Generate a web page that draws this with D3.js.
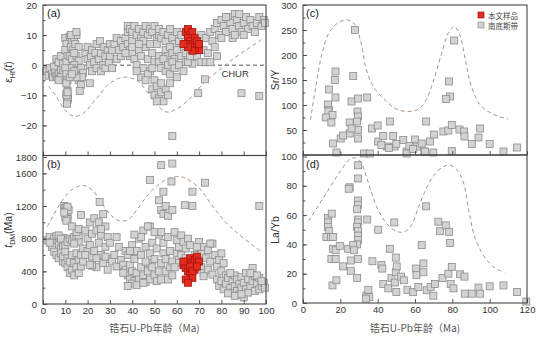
<!DOCTYPE html>
<html><head><meta charset="utf-8">
<script src="https://cdn.jsdelivr.net/npm/d3@7/dist/d3.min.js"></script>
<style>body{margin:0;background:#fff}svg{display:block}</style>
</head><body>
<svg id="c" width="541" height="337"></svg>
<script>
// ---------- DATA ----------
const grayA = [
[1.5,-2],[2.5,-3.5],[3,-1],[4,-3],[4.5,-4],[5,-0.5],[5.5,-2.5],[6,-3.5],[6.5,-4],[7,-3],[7.5,-4.5],[8,-1.5],[8.5,-3.8],[9,-2.5],[9.5,-4.2],[8,-4],[7,-5],[6,2],[7,1],[9,0.5],[8,3],
[10,9],[10.5,7],[10,5],[11,3],[10.5,1],[10,-1],[10.5,-3],[11,-5],[10.5,-6],[11,-8.5],[10.5,-9.5],[10.8,-10.5],[11,-11.5],[10.7,-12.2],[11.2,-11],[10.6,-10],[10.8,-12.8],[11,-9],
[12,9.5],[13,8],[14,9],[15,10],[12.5,6],[13.5,5],[14.5,7],[16,6],[12,3],[13,2],[15,3],[16,1.5],[14,0],[13,-1],[15,-1.5],[16,-2],[17,-3],[15.5,-3.5],[16.5,-4.5],[17,-1],[18,-2.5],[16,-5],[17.5,-4],[15,-4],[14,-2],[12,-4],[13,-3],[17,-6.5],[16.5,-8.6],[14,4],[12.5,10],[15,11],
[19,4],[20,6],[20,2],[21,0],[21.5,3],[22,5],[22,-2],[23,1],[23.5,4],[24,7],[24,-1],[25,2],[25.5,8],[26,4],[26,-2],[27,0],[27.5,6],[28,3],[28,-1],[29,5],[29.5,1],[30,7],[30,3],[31,5],[31,-1],[21,-6],[33,2],[34,7],[35,3],
[32,7],[33,9],[34,5],[35,8],[36,6],[37,9],[38,7],[39,5],[38,11],[40,8],[39,3],[40,4],[37,4],
[38,13],[39,12],[40,11],[41,13],[42,10],[43,12],[44,9],[45,11],[46,13],[47,10],[48,12],[49,11],[50,13],[51,9],[52,10],[40,6],[41,2],[42,0],[43,5],[44,3],[45,-1],[46,6],[47,2],[48,-2],[49,4],[50,1],[51,7],[52,3],[44,-4],[45,8],[47,-3],[49,-1],[50,-5],[46,-5],[42,-2],[43,7],[48,7],
[49,-8],[50,-10],[51,-7],[52,-11],[53,-9],[54,-12],[55,-8],[56,-10],[57,-6],[53,-6],[51,-12],[58,-23.5],
[52,12],[53,9],[54,11],[55,8],[56,10],[57,12],[58,9],[59,7],[60,11],[61,8],[62,10],[63,6],[55,5],[56,3],[57,6],[58,4],[59,2],[60,5],[52,1],[53,-1],[54,2],[55,-2],[56,0],[57,-3],[58,1],[59,-1],[60,-4],[61,0],[62,3],[63,-2],[64,1],
[69,3],[70,7],[71,10],[72,5],[73,9],[74,4],[75,11],[76,8],[77,6],[78,3],[71,1],[73,1],[75,1],[72.6,-4.7],[69.6,-9.3],[67,0.5],[65,1],[64,4],[66,3],
[77,12],[78,14],[79,10],[80,15],[81,13],[82,11],[83,16],[84,14],[85,12],[86,17],[87,15],[88,13],[89,11],[90,14],[91,16],[92,12],[93,15],[94,13],[95,11],[96,14],[97,16],[98,13],[99,15],[99.5,14],[90,10],[85,9],[80,9],[88,17],[82,16],[86,10],[89,-9.3],[97,-10.2]
];
const redA = [[64,11],[65,12],[66,10],[67,11],[65,9],[66,8],[67,7],[64,7],[68,9],[69,8],[69,6],[70,5],[68,5],[66,6],[67,4.8],[65,6],[63,7],[70,7]];

const grayB = [
[2,780],[3,820],[4,760],[5,800],[6,830],[7,790],[8,760],[9,810],[5,740],[6,700],[7,720],[8,680],[9,740],[10,780],[4,700],[3,750],[7,840],[8,800],[9,700],[10,720],[11,760],[12,800],[13,780],[14,820],[15,800],[16,760],[16,840],[14,740],
[5,640],[6,600],[7,560],[8,620],[9,520],[9,580],[10,500],[10,640],[11,450],[11,560],[12,380],[12,520],[13,600],[13,420],[14,500],[14,350],[15,620],[15,450],[16,540],[16,380],[17,600],[17,460],[18,520],[18,680],
[9.5,1200],[10,1180],[10.5,1160],[10,1130],[10.5,1100],[11,1080],[10,1060],[11,1040],[10.5,1020],[11.5,1150],[11,1190],[9.5,1120],
[17,1090],[15,880],[13,950],[16,920],
[19,900],[20,800],[20,650],[21,1000],[21,720],[22,580],[22,860],[23,1050],[23,650],[24,450],[24,900],[25,750],[25,1000],[25.4,1250],[26,600],[26,850],[27,1100],[27,500],[28,700],[28,950],[29,420],[29,820],[30,550],[30,750],[22,470],[24,560],[19,600],[21,480],[26,920],[28,580],
[31,520],[32,600],[33,460],[34,700],[35,540],[36,480],[37,650],[33,820],
[37,420],[38,350],[38,600],[39,300],[39,480],[40,720],[40,400],[41,280],[41,550],[42,650],[42,380],[43,300],[43,800],[44,450],[44,600],[45,350],[45,900],[46,270],[46,700],[47,500],[47,400],[48,300],[48,620],[48,950],[49,450],[49,750],[50,350],[50,550],[51,280],[51,680],[52,400],[52,850],[53,500],[53,300],[54,620],[54,750],[55,400],[55,550],[56,300],[56,820],[57,450],[57,650],[58,350],[58,520],[40,250],[42,230],[38,220],[45,260],[47,950],[50,880],[53,880],[44,820],[46,520],[36,380],[39,650],[41,850],
[48,1520],[54,1375],[53,1700],[58,1720],[57.6,1500],[52,1270],[53,1150],[54,1100],[55,1200],[56,1080],[58,1150],[63.6,1210],[67,1200],[67,1375],[72.6,1485],[97,1200],
[59,880],[60,780],[60,620],[61,700],[61,500],[62,840],[62,600],[63,760],[63,470],[64,680],[64,560],[59,450],[65,800],[66,720],
[70,760],[71,620],[71,450],[72,700],[72,380],[73,560],[74,660],[74,420],[75,520],[76,740],[76,360],[77,600],[78,460],[79,540],[80,400],[80,620],[81,500],[82,350],[72,340],[75,740],[69,700],[68,600],
[78,300],[79,220],[80,280],[81,180],[82,250],[83,320],[84,200],[85,140],[85,280],[86,350],[86,220],[87,160],[87,300],[88,250],[88,110],[89,200],[89,330],[90,80],[90,260],[91,180],[91,380],[92,300],[92,140],[93,220],[94,440],[94,280],[95,160],[95,340],[96,250],[97,180],[97,320],[98,220],[99,260],[99.5,200],[84,380],[83,130],[86,100],[89,120],[93,380],[96,350],[98,280]
];
const redB = [[63,480],[64,440],[65,520],[66,560],[67,500],[68,540],[69,580],[70,520],[65,400],[66,360],[67,320],[68,420],[64,300],[65,260],[66,460],[67,400],[69,460],[63,520]];

const grayC = [
[27.8,250],[17.4,167],[17,150],[17.4,115],[14,131],[13.4,101],[14,90],[13.6,87],[15.8,80],[12.2,75],[15.2,65],
[26.9,158],[26,107],[29.5,113],[34.4,115],[29.2,87],[29.5,77],[29,67],[25,65],[29.5,50],[29.5,33],[25,43],
[16,23],[20.2,33],[21.5,39],[17.9,5],[26,53],[32.6,3],[35.8,3],[37,53],[40,59],[46.5,67],[66,67],
[40.3,27],[43,38],[48.3,38],[44.8,17],[49,17],[53.7,30],[55.5,7],[60,31],[61,17],[63.6,23],[65,7],[68,27],[69.8,5],[70.2,41],
[75.2,47],[77.9,49],[79.7,60],[83.8,51],[86.3,47],[86.5,37],[90.4,22],[94,35],[94.9,53],[100,22],[107.4,7],[114.6,15],
[78.2,147],[78.8,117],[76.6,112],[81,229],[79.7,8],[55.5,3],[65.3,7],[42,20],[46,14],[50,22],[57,18],[59,12]
];
const grayD = [
[29.5,94],[29.5,85],[25,79],[24.5,78],[29.5,70],[29.5,67],[29,64],[29.5,57],[29.5,55],[29,52],[29.5,49],[29.5,46],[29.5,43],[29,40],[29.5,30],[29,17],
[13.4,58],[13.4,55],[13.4,52],[14,49],[12.5,45],[15,45],[16.1,45],[15.4,61],[16.1,37],[17.5,36],[15.8,12],[17.9,15.5],[15.2,30],[17.5,30],
[19.7,39],[24.2,37],[26.9,39.5],[27.4,36],[21.5,25],[25.6,29],[25.6,22],
[34,5],[35,9],[35.5,4],[33.7,3],[34.4,57],[40.3,50],[48.9,55],[46.5,37],[37.2,28.5],[42,26],[42.5,23.5],
[43,13],[45.7,10],[47.4,17],[49.2,14],[49.7,21],[50,7.5],[52.5,18],[49.7,31],[50.2,25],[54,15.5],[55.9,9],[59,7.5],[60.5,23.5],[60.8,19],[61.8,11],[63.6,39.5],[64.5,27],[64.5,21],[65.9,66],[66.3,8.7],[68.4,11],[69.8,5],[70.7,13],
[72.5,55.5],[73.4,49],[76.5,53],[78.2,48.6],[78.8,41],[74.7,17],[77.9,20],[79.7,24.6],[79.1,13],[80.6,10],[84.2,19.6],[86.5,18],[86.7,6.4],[90.4,6.4],[94,10.5],[94.9,6.4],[100,11.4],[107.4,12],[114.6,7.5],[119.6,1]
];

const curveA = [[2.5,-7],[6,-10.5],[10,-15],[14,-17],[18,-16],[24,-11],[30,-6],[36,-4],[42,-5],[48,-10],[55,-15.5],[60,-14.5],[66,-11],[72,-6],[80,-1],[86,2.5],[92,5.5],[98,8.5]];
const curveB = [[2,950],[6,1150],[10,1320],[14,1420],[18,1450],[22,1400],[26,1250],[30,1100],[34,1020],[38,1030],[42,1150],[46,1300],[50,1420],[55,1520],[60,1560],[64,1540],[70,1420],[76,1200],[82,1000],[88,850],[94,720],[98,640]];
const curveC = [[4,70],[7,140],[10,200],[14,245],[19,265],[24,270],[28,260],[31,225],[34,170],[38,135],[44,110],[50,92],[56,87],[62,92],[66,110],[70,150],[74,200],[78,245],[81,257],[84,240],[87,190],[90,140],[94,105],[98,90],[104,78],[110,72]];
const curveD = [[3,56],[8,66],[14,78],[20,90],[25,98],[28,99],[31,96],[35,82],[40,64],[45,54],[50,49],[54,48.5],[58,53],[62,66],[66,78],[70,87],[75,93],[79,94],[83,90],[86,82],[89,62],[92,45],[96,34],[100,27],[104,23],[108,21]];

const ticksA = [-20,-10,0,10,20];
const ticksB = [0,400,800,1200,1600,1800];
const ticksC = [50,100,150,200,250,300];
const ticksD = [0,20,40,60,80,100];
const ticksXL = [0,10,20,30,40,50,60,70,80,90,100];
const ticksXR = [0,20,40,60,80,100,120];
const legendLabels = ["本文样品","南底斯带"];
const xTitle = "锆石U-Pb年龄（Ma)";

// ---------- DRAW ----------
const svg = d3.select("#c");
const FONT = "'Liberation Sans', Arial, sans-serif";
const axisCol = "#444";

const xL = d3.scaleLinear().domain([0,100]).range([43,266]);
const xR = d3.scaleLinear().domain([0,120]).range([303,527]);
const yA = d3.scaleLinear().domain([-30,20]).range([155.5,5]);
const yB = d3.scaleLinear().domain([0,1800]).range([304,157]);
const yC = d3.scaleLinear().domain([0,300]).range([155,5]);
const yD = d3.scaleLinear().domain([0,100]).range([303,156.5]);

function styleAxis(g){
  g.select(".domain").remove();
  g.selectAll("line").attr("stroke",axisCol).attr("stroke-width",0.9);
  g.selectAll("text").attr("font-family",FONT).attr("font-size",9.5).attr("fill","#333");
}
function yAxis(y, x0, major, minor){
  svg.append("g").attr("transform",`translate(${x0},0)`)
    .call(d3.axisLeft(y).tickValues(minor).tickSize(-2.5).tickFormat("")).call(styleAxis);
  svg.append("g").attr("transform",`translate(${x0},0)`)
    .call(d3.axisLeft(y).tickValues(major).tickSize(-4).tickPadding(6).tickFormat(d3.format("d"))).call(styleAxis);
}
function xAxis(x, y0, major, labels){
  const a = d3.axisBottom(x).tickValues(major).tickSize(-4).tickPadding(3).tickFormat(d3.format("d"));
  if(!labels) a.tickFormat("");
  svg.append("g").attr("transform",`translate(0,${y0})`).call(a).call(styleAxis);
}
function curve(x,y,data){
  svg.append("path").datum(data)
    .attr("d", d3.line().x(d=>x(d[0])).y(d=>y(d[1])).curve(d3.curveCatmullRom))
    .attr("fill","none").attr("stroke","#a89486").attr("stroke-width",1)
    .attr("stroke-dasharray","4,3");
}
const S = 7;
function points(x,y,data,fill,stroke){
  svg.append("g").selectAll("rect").data(data).join("rect")
    .attr("x",d=>x(d[0])-S/2).attr("y",d=>y(d[1])-S/2)
    .attr("width",S).attr("height",S)
    .attr("fill",fill).attr("stroke",stroke).attr("stroke-width",0.8);
}
function frame(x0,y0,x1,y1){
  svg.append("rect").attr("x",x0).attr("y",y0).attr("width",x1-x0).attr("height",y1-y0)
    .attr("fill","none").attr("stroke",axisCol).attr("stroke-width",1.1);
}
function label(x,y,t){
  svg.append("text").attr("x",x).attr("y",y).text(t)
    .attr("font-family",FONT).attr("font-size",11).attr("fill","#222");
}

// Panel a
svg.append("line").attr("x1",xL(0)).attr("x2",xL(100)).attr("y1",yA(0)).attr("y2",yA(0))
  .attr("stroke","#555").attr("stroke-width",1).attr("stroke-dasharray","4,3");
curve(xL,yA,curveA);
points(xL,yA,grayA,"#d3d3d3","#8c8c8c");
points(xL,yA,redA,"#e52a1e","#a4160f");
svg.append("text").attr("x",xL(80)).attr("y",yA(-3.8)).text("CHUR")
  .attr("font-family",FONT).attr("font-size",9.5).attr("fill","#333");
yAxis(yA,43,ticksA,d3.range(-25,20,5));
xAxis(xL,155.5,ticksXL,false);
label(47,17,"(a)");

// Panel b
curve(xL,yB,curveB);
points(xL,yB,grayB,"#d3d3d3","#8c8c8c");
points(xL,yB,redB,"#e52a1e","#a4160f");
yAxis(yB,43,ticksB,d3.range(200,1800,200));
xAxis(xL,304,ticksXL,true);
label(47,168,"(b)");

// Panel c
curve(xR,yC,curveC);
points(xR,yC,grayC,"#d3d3d3","#8c8c8c");
yAxis(yC,303,ticksC,d3.range(25,300,25));
xAxis(xR,155,ticksXR,false);
label(306,17,"(c)");

// Panel d
curve(xR,yD,curveD);
points(xR,yD,grayD,"#d3d3d3","#8c8c8c");
yAxis(yD,303,ticksD,d3.range(10,100,10));
xAxis(xR,303,ticksXR,true);
label(306,168,"(d)");

frame(43,5,266,155.5);
frame(43,155.5,266,304);
frame(303,5,527,155);
frame(303,155,527,303);

// Legend
const lg = svg.append("g");
[["#e52a1e","#a4160f"],["#d3d3d3","#8c8c8c"]].forEach((c,i)=>{
  lg.append("rect").attr("x",478).attr("y",12+i*10).attr("width",6).attr("height",6)
    .attr("fill",c[0]).attr("stroke",c[1]).attr("stroke-width",0.7);
  lg.append("text").attr("x",488).attr("y",18.5+i*10).text(legendLabels[i])
    .attr("font-family","'Noto Sans CJK SC', sans-serif").attr("font-size",7.5).attr("fill","#444");
});

// Axis titles
const tfont = "'Noto Sans CJK SC', 'Liberation Sans', sans-serif";
svg.append("text").attr("x",xL(50)).attr("y",332).attr("text-anchor","middle").text(xTitle)
  .attr("font-family",tfont).attr("font-size",10).attr("fill","#555");
svg.append("text").attr("x",xR(60)).attr("y",332).attr("text-anchor","middle").text(xTitle)
  .attr("font-family",tfont).attr("font-size",10).attr("fill","#555");

function yTitle(x,y,build){
  const t = svg.append("text").attr("transform",`translate(${x},${y}) rotate(-90)`)
    .attr("text-anchor","middle").attr("font-family",FONT).attr("font-size",10.5).attr("fill","#333");
  build(t);
}
yTitle(12,72,t=>{
  t.append("tspan").text("ε").attr("font-style","italic");
  t.append("tspan").text("Hf").attr("font-size",7).attr("dy",3);
  t.append("tspan").text("(").attr("dy",-3);
  t.append("tspan").text("t").attr("font-style","italic");
  t.append("tspan").text(")");
});
yTitle(12,230,t=>{
  t.append("tspan").text("t").attr("font-style","italic");
  t.append("tspan").text("DM").attr("font-size",7).attr("dy",3);
  t.append("tspan").text("(Ma)").attr("dy",-3);
});
yTitle(279,80,t=>t.text("Sr/Y"));
yTitle(279,230,t=>t.text("La/Yb"));
</script>
</body></html>
